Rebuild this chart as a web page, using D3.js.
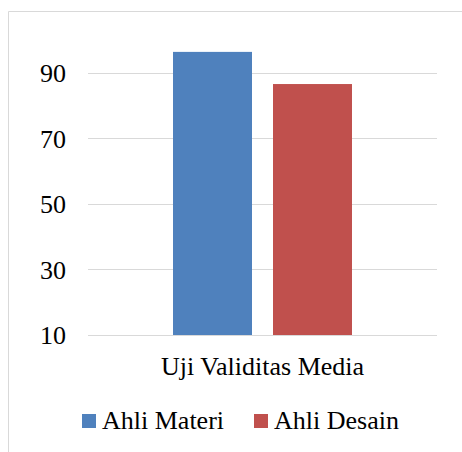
<!DOCTYPE html>
<html>
<head>
<meta charset="utf-8">
<script src="https://cdn.jsdelivr.net/npm/d3@7"></script>
<style>
  body { margin: 0; background: #fff; }
  text { font-family: "Liberation Serif", "Times New Roman", serif; fill: #000; }
</style>
</head>
<body>
<div id="chart"></div>
<script>
// data
var categories = ["Uji Validitas Media"];
var seriesNames = ["Ahli Materi", "Ahli Desain"];
var seriesColors = ["#4f81bd", "#c0504d"];
var ahliMateri = [96.3];
var ahliDesain = [86.5];
var tickValues = [10, 30, 50, 70, 90];

var width = 462, height = 452;
var plotLeft = 88, plotRight = 437, plotTop = 39.75, plotBottom = 335;

var svg = d3.select("#chart")
    .append("svg")
        .attr("width", width)
        .attr("height", height);

// chart area border (runs off the right and bottom edges)
svg.append("path")
    .attr("d", "M8.5," + height + "V11.5H" + width)
    .style("fill", "none")
    .style("stroke", "#d9d9d9")
    .style("stroke-width", 1);

var y = d3.scaleLinear().domain([10, 100]).range([plotBottom, plotTop]);

var x0 = d3.scaleBand()
    .domain(categories)
    .range([plotLeft, plotRight])
    .paddingInner(0)
    .paddingOuter(0.475);

var x1 = d3.scaleBand()
    .domain(seriesNames)
    .range([0, x0.bandwidth()])
    .paddingInner(0.21)
    .paddingOuter(0);

// gridlines
svg.selectAll("line.grid")
    .data(tickValues)
    .enter()
    .append("line")
        .attr("class", "grid")
        .attr("x1", plotLeft)
        .attr("x2", plotRight)
        .attr("y1", d => Math.round(y(d)) + 0.5)
        .attr("y2", d => Math.round(y(d)) + 0.5)
        .style("stroke", "#d9d9d9")
        .style("stroke-width", 1.2);

// y axis labels
var axisLeft = d3.axisLeft(y).tickValues(tickValues).tickSize(0).tickPadding(0);
var gy = svg.append("g")
    .attr("transform", "translate(66,0)")
    .call(axisLeft);
gy.select(".domain").remove();
gy.selectAll("text")
    .style("font-family", '"Liberation Serif", serif')
    .style("font-size", "26px")
    .attr("dy", "0.34em")
    .style("fill", "#000");

// bars
var rows = categories.map((c, i) => ({cat: c, values: [ahliMateri[i], ahliDesain[i]]}));
var groups = svg.selectAll("g.cat")
    .data(rows)
    .enter()
    .append("g")
        .attr("class", "cat")
        .attr("transform", d => "translate(" + x0(d.cat) + ",0)");

groups.selectAll("rect")
    .data(d => d.values.map((v, j) => ({name: seriesNames[j], value: v, color: seriesColors[j]})))
    .enter()
    .append("rect")
        .attr("x", d => x1(d.name))
        .attr("y", d => y(d.value))
        .attr("width", x1.bandwidth())
        .attr("height", d => y(10) - y(d.value))
        .style("fill", d => d.color);

// category label
svg.selectAll("text.cat")
    .data(categories)
    .enter()
    .append("text")
        .attr("class", "cat")
        .attr("x", d => x0(d) + x0.bandwidth() / 2)
        .attr("y", 375)
        .attr("text-anchor", "middle")
        .style("font-size", "26px")
        .text(d => d);

// legend
var legendX = [82, 254];
var legend = svg.selectAll("g.legend")
    .data(seriesNames)
    .enter()
    .append("g")
        .attr("class", "legend")
        .attr("transform", (d, i) => "translate(" + legendX[i] + ",414)");

legend.append("rect")
    .attr("width", 14)
    .attr("height", 14)
    .style("fill", (d, i) => seriesColors[i]);

legend.append("text")
    .attr("x", 20)
    .attr("y", 15)
    .style("font-size", "26px")
    .text(d => d);
</script>
</body>
</html>
